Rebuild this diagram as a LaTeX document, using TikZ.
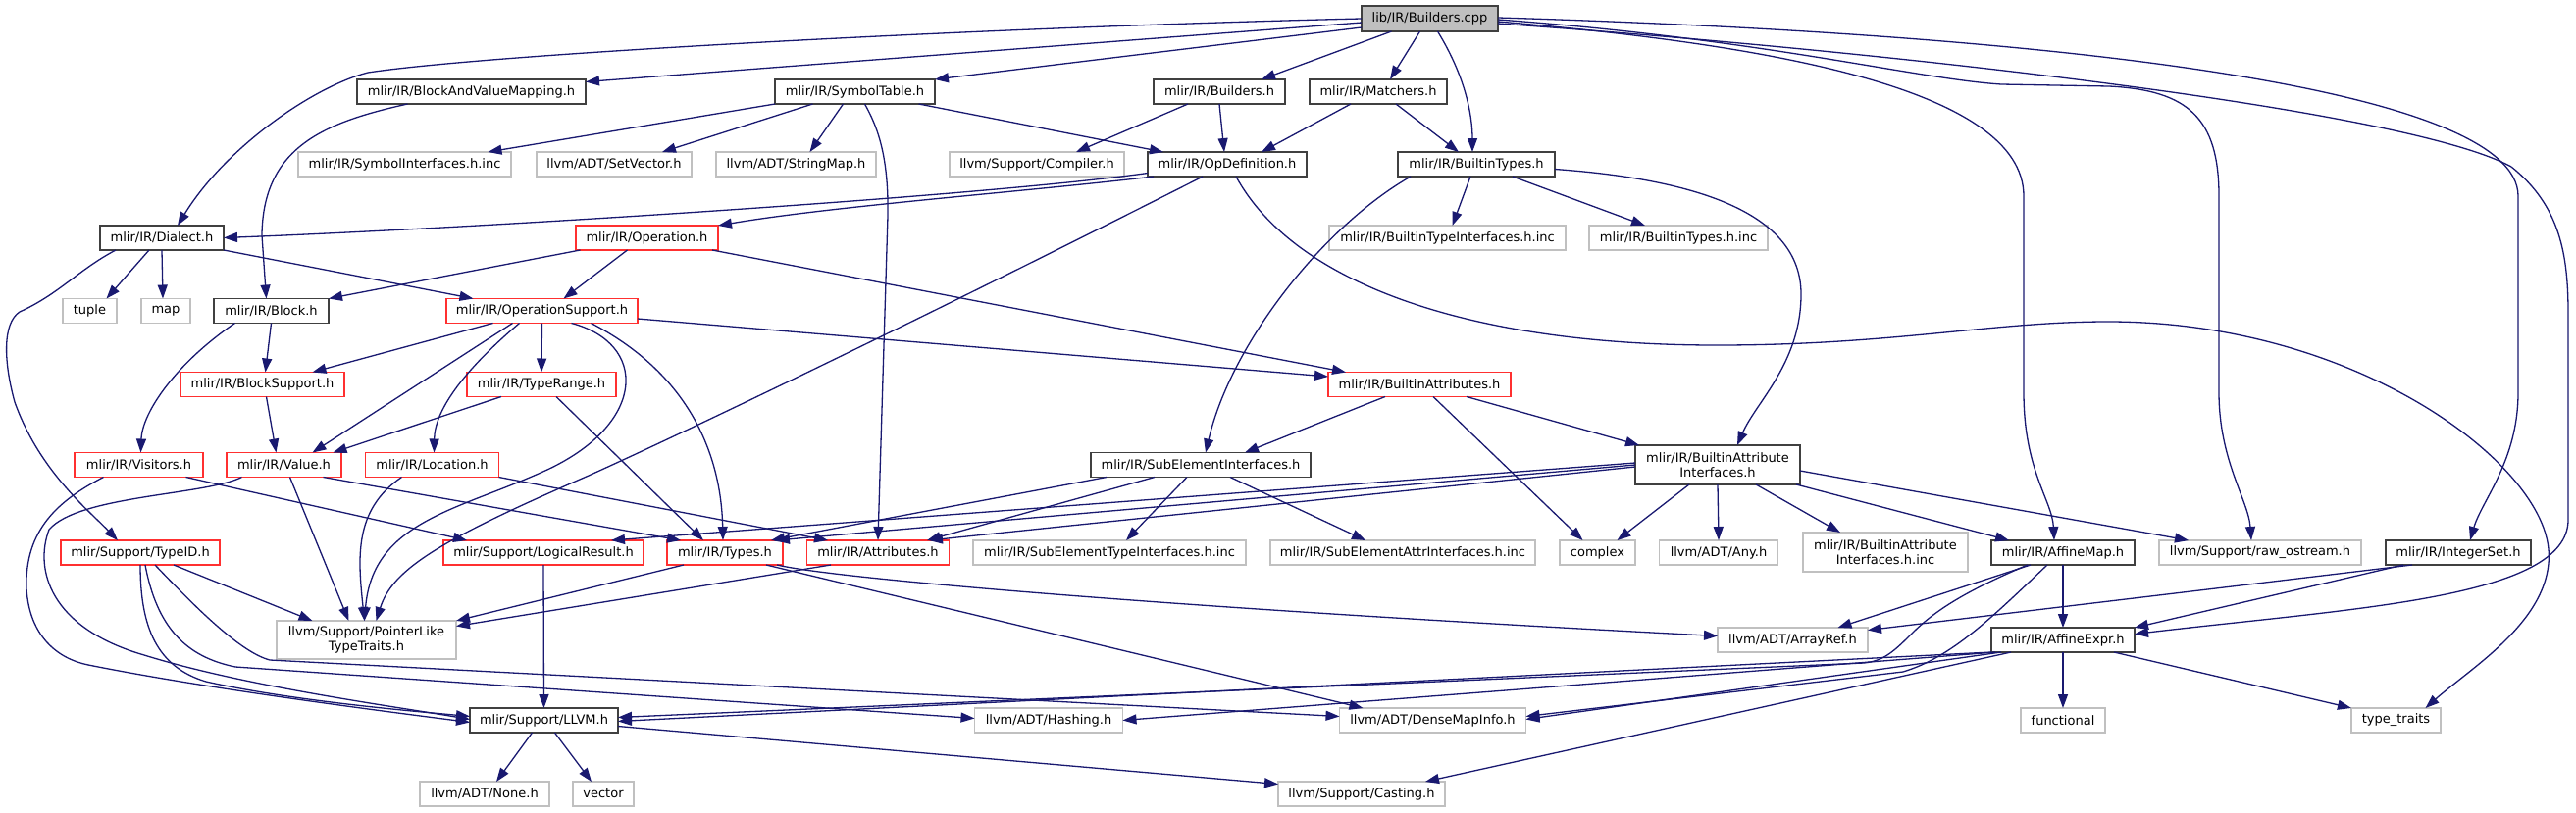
\documentclass[tikz,border=0pt]{standalone}
\usepackage{fontspec}
\setmainfont{DejaVu Sans}
\usetikzlibrary{arrows.meta}
\definecolor{navy}{HTML}{191970}
\definecolor{redb}{HTML}{FF3030}
\definecolor{grayb}{HTML}{C0C0C0}
\definecolor{darkb}{HTML}{404040}
\definecolor{rootf}{HTML}{BFBFBF}
\begin{document}
\begin{tikzpicture}[x=1pt,y=-1pt,
  box/.style={rectangle, inner sep=0pt, outer sep=0pt, minimum height=25pt, font=\fontsize{13}{14.5}\selectfont, fill=white, align=center},
  blk/.style={box, draw=darkb, line width=1.8pt},
  rd/.style={box, draw=redb, line width=1.6pt},
  gr/.style={box, draw=grayb, line width=1.5pt},
  root/.style={box, draw=darkb, fill=rootf, line width=1.6pt},
  e/.style={draw=navy, line width=1.3pt, -{Triangle[length=14pt,width=10pt]}},
]
\useasboundingbox (0,0) rectangle (2626,828);

\node[root, minimum width=139pt, minimum height=26pt] (bc) at (1457.5,19) {lib/IR/Builders.cpp};
\node[blk, minimum width=233pt] (bavm) at (480.5,93.5) {mlir/IR/BlockAndValueMapping.h};
\node[blk, minimum width=163pt] (symt) at (871.5,93.5) {mlir/IR/SymbolTable.h};
\node[blk, minimum width=134pt] (bldh) at (1243,93.5) {mlir/IR/Builders.h};
\node[blk, minimum width=140pt] (mat) at (1405,93.5) {mlir/IR/Matchers.h};
\node[gr, minimum width=217pt] (syminc) at (412.5,167.5) {mlir/IR/SymbolInterfaces.h.inc};
\node[gr, minimum width=158pt] (setv) at (626,167.5) {llvm/ADT/SetVector.h};
\node[gr, minimum width=163pt] (strm) at (811.5,167.5) {llvm/ADT/StringMap.h};
\node[gr, minimum width=178pt] (comp) at (1057,167.5) {llvm/Support/Compiler.h};
\node[blk, minimum width=162pt] (opdef) at (1251,167.5) {mlir/IR/OpDefinition.h};
\node[blk, minimum width=160pt] (btypes) at (1505,167.5) {mlir/IR/BuiltinTypes.h};
\node[blk, minimum width=126pt] (dialect) at (165,242.5) {mlir/IR/Dialect.h};
\node[rd, minimum width=145pt] (oper) at (659.5,242.5) {mlir/IR/Operation.h};
\node[gr, minimum width=241pt] (btinc) at (1475.5,242.5) {mlir/IR/BuiltinTypeInterfaces.h.inc};
\node[gr, minimum width=182pt] (bthinc) at (1711,242.5) {mlir/IR/BuiltinTypes.h.inc};
\node[gr, minimum width=55pt] (tuple) at (91.5,317) {tuple};
\node[gr, minimum width=50pt] (map) at (169,317) {map};
\node[blk, minimum width=117pt] (block) at (276.5,317) {mlir/IR/Block.h};
\node[rd, minimum width=195pt] (opsup) at (552.5,317) {mlir/IR/OperationSupport.h};
\node[rd, minimum width=167pt] (blksup) at (267.5,392) {mlir/IR/BlockSupport.h};
\node[rd, minimum width=152pt] (trange) at (552,392) {mlir/IR/TypeRange.h};
\node[rd, minimum width=186pt] (battr) at (1447,392) {mlir/IR/BuiltinAttributes.h};
\node[rd, minimum width=131pt] (visit) at (141.5,474) {mlir/IR/Visitors.h};
\node[rd, minimum width=117pt] (value) at (289.5,474) {mlir/IR/Value.h};
\node[rd, minimum width=136pt] (loc) at (440.5,474) {mlir/IR/Location.h};
\node[blk, minimum width=224pt] (subel) at (1224,474) {mlir/IR/SubElementInterfaces.h};
\node[blk, minimum width=168pt, minimum height=40pt] (bai) at (1751,474) {mlir/IR/BuiltinAttribute\\Interfaces.h};
\node[rd, minimum width=162pt] (typeid) at (143,563.5) {mlir/Support/TypeID.h};
\node[rd, minimum width=204pt] (logres) at (554,563.5) {mlir/Support/LogicalResult.h};
\node[rd, minimum width=118pt] (types) at (739,563.5) {mlir/IR/Types.h};
\node[rd, minimum width=145pt] (attrs) at (895,563.5) {mlir/IR/Attributes.h};
\node[gr, minimum width=278pt] (setinc) at (1131,563.5) {mlir/IR/SubElementTypeInterfaces.h.inc};
\node[gr, minimum width=270pt] (saiinc) at (1430,563.5) {mlir/IR/SubElementAttrInterfaces.h.inc};
\node[gr, minimum width=77pt] (complex) at (1628.5,563.5) {complex};
\node[gr, minimum width=121pt] (any) at (1752,563.5) {llvm/ADT/Any.h};
\node[gr, minimum width=168pt, minimum height=40pt] (baiinc) at (1922,563) {mlir/IR/BuiltinAttribute\\Interfaces.h.inc};
\node[blk, minimum width=146pt] (amap) at (2103,563.5) {mlir/IR/AffineMap.h};
\node[gr, minimum width=206pt] (rawos) at (2304,563.5) {llvm/Support/raw\_ostream.h};
\node[blk, minimum width=148pt] (iset) at (2506,563.5) {mlir/IR/IntegerSet.h};
\node[gr, minimum width=183pt, minimum height=39pt] (plike) at (373.5,652.5) {llvm/Support/PointerLike\\TypeTraits.h};
\node[gr, minimum width=153pt] (arref) at (1827.5,652.5) {llvm/ADT/ArrayRef.h};
\node[blk, minimum width=146pt] (aexpr) at (2103,652.5) {mlir/IR/AffineExpr.h};
\node[blk, minimum width=151pt] (llvm) at (554.5,734.5) {mlir/Support/LLVM.h};
\node[gr, minimum width=151pt] (hash) at (1069,734.5) {llvm/ADT/Hashing.h};
\node[gr, minimum width=190pt] (dmi) at (1460.5,734.5) {llvm/ADT/DenseMapInfo.h};
\node[gr, minimum width=86pt] (func) at (2103,734.5) {functional};
\node[gr, minimum width=91pt] (ttraits) at (2442.5,734.5) {type\_traits};
\node[gr, minimum width=132pt] (none) at (494,809.5) {llvm/ADT/None.h};
\node[gr, minimum width=62pt] (vector) at (615,809.5) {vector};
\node[gr, minimum width=170pt] (cast) at (1388,809.5) {llvm/Support/Casting.h};

% lib/IR/Builders.cpp
\draw[e] (bc.west) .. controls (1000,28) and (500,55) .. (375,74) .. controls (320,88) and (230,150) .. ([xshift=16pt]dialect.north);
\draw[e] ([yshift=-4pt]bc.west) -- ([yshift=10pt]bavm.east);
\draw[e] ([yshift=-9pt]bc.west) -- (symt.north east);
\draw[e] ([xshift=-39pt]bc.south) -- ([xshift=43pt]bldh.north);
\draw[e] ([xshift=-10pt]bc.south) -- ([xshift=12pt]mat.north);
\draw[e] ([xshift=8pt]bc.south) .. controls (1495,80) and (1501,120) .. ([xshift=-4pt]btypes.north);
\draw[e] ([yshift=-3pt]bc.east) .. controls (1800,45) and (2063,90) .. (2063,200) -- (2063,400) .. controls (2063,480) and (2092,510) .. ([xshift=-9pt]amap.north);
\draw[e] ([yshift=-1pt]bc.east) .. controls (1800,40) and (1950,80) .. (2040,86) -- (2150,88) .. controls (2230,92) and (2262,120) .. (2262,200) -- (2262,400) .. controls (2262,470) and (2292,510) .. ([xshift=-9pt]rawos.north);
\draw[e] ([yshift=1pt]bc.east) .. controls (2100,35) and (2567,90) .. (2567,200) -- (2567,400) .. controls (2567,470) and (2530,510) .. ([xshift=12pt]iset.north);
\draw[e] ([yshift=-5pt]bc.east) .. controls (1900,50) and (2450,110) .. (2560,170) .. controls (2610,210) and (2618,260) .. (2618,320) -- (2618,530) .. controls (2618,610) and (2400,620) .. ([yshift=6pt]aexpr.east);

% BlockAndValueMapping
\draw[e] ([xshift=-65pt]bavm.south) .. controls (330,125) and (268,150) .. (267,240) -- ([xshift=-5pt]block.north);

% SymbolTable
\draw[e] (symt.south west) -- ([xshift=85pt]syminc.north);
\draw[e] ([xshift=-43pt]symt.south) -- ([xshift=49pt]setv.north);
\draw[e] ([xshift=-12pt]symt.south) -- ([xshift=14pt]strm.north);
\draw[e] ([xshift=65pt]symt.south) -- ([xshift=-65pt]opdef.north);
\draw[e] ([xshift=10pt]symt.south) .. controls (895,130) and (906,160) .. (905,220) -- (attrs.north);

% Builders.h, Matchers.h
\draw[e] ([xshift=-32pt]bldh.south) -- ([xshift=40pt]comp.north);
\draw[e] (bldh.south) -- ([xshift=-3pt]opdef.north);
\draw[e] ([xshift=-28pt]mat.south) -- ([xshift=35pt]opdef.north);
\draw[e] ([xshift=18pt]mat.south) -- ([xshift=-18pt]btypes.north);

% OpDefinition
\draw[e] ([yshift=-9pt]opdef.west) .. controls (1000,200) and (500,232) .. (dialect.east);
\draw[e] ([xshift=6pt]opdef.south west) .. controls (1050,195) and (850,210) .. (oper.north east);
\draw[e] ([xshift=-25pt]opdef.south) .. controls (950,320) and (700,440) .. (600,485) .. controls (450,550) and (400,580) .. ([xshift=10pt]plike.north);
\draw[e] ([xshift=9pt]opdef.south) .. controls (1320,290) and (1500,352) .. (1750,352) .. controls (1930,352) and (2030,328) .. (2149,328) .. controls (2400,328) and (2590,470) .. (2598,560) .. controls (2604,630) and (2520,680) .. ([xshift=30pt]ttraits.north);

% BuiltinTypes
\draw[e] ([xshift=-6pt]btypes.south) -- ([xshift=5pt]btinc.north);
\draw[e] ([xshift=37pt]btypes.south) -- ([xshift=-34pt]bthinc.north);
\draw[e] ([xshift=-67pt]btypes.south) .. controls (1350,230) and (1255,350) .. ([xshift=5pt]subel.north);
\draw[e] ([yshift=-5pt]btypes.east) .. controls (1760,185) and (1836,230) .. (1836,300) .. controls (1836,370) and (1790,410) .. ([xshift=20pt]bai.north);

% Dialect
\draw[e] ([xshift=-13pt]dialect.south) -- ([xshift=17pt]tuple.north);
\draw[e] (dialect.south) -- ([xshift=-3pt]map.north);
\draw[e] (dialect.south east) -- ([xshift=-70pt]opsup.north);
\draw[e] ([xshift=-47pt]dialect.south) .. controls (80,275) and (60,300) .. (20,318) .. controls (2,330) and (4,370) .. (15,410) .. controls (40,480) and (90,520) .. ([xshift=-23pt]typeid.north);

% Operation
\draw[e] ([xshift=-68pt]oper.south) -- (block.north east);
\draw[e] ([xshift=-20pt]oper.south) -- ([xshift=22pt]opsup.north);
\draw[e] ([xshift=-6pt]oper.south east) -- ([xshift=-75pt]battr.north);

% Block
\draw[e] (block.south) -- ([xshift=3pt]blksup.north);
\draw[e] ([xshift=-37pt]block.south) .. controls (180,370) and (145,420) .. ([xshift=2pt]visit.north);

% OperationSupport
\draw[e] ([xshift=-50pt]opsup.south) -- ([xshift=51pt]blksup.north);
\draw[e] (opsup.south) -- (trange.north);
\draw[e] ([xshift=-30pt]opsup.south) -- ([xshift=29pt]value.north);
\draw[e] ([xshift=-23pt]opsup.south) .. controls (470,380) and (443,420) .. ([xshift=2pt]loc.north);
\draw[e] ([xshift=30pt]opsup.south) .. controls (660,350) and (660,430) .. (560,478) .. controls (470,520) and (380,530) .. ([xshift=-2pt]plike.north);
\draw[e] ([xshift=50pt]opsup.south) .. controls (700,380) and (735,460) .. ([xshift=-2pt]types.north);
\draw[e] ([yshift=-8pt]opsup.east) -- ([yshift=8pt]battr.west);

% BlockSupport, TypeRange
\draw[e] ([xshift=4pt]blksup.south) -- ([xshift=-8pt]value.north);
\draw[e] ([xshift=-41pt]trange.south) -- ([xshift=50pt]value.north);
\draw[e] ([xshift=15pt]trange.south) -- ([xshift=-22pt]types.north);

% BuiltinAttributes
\draw[e] ([xshift=-35pt]battr.south) -- ([xshift=45pt]subel.north);
\draw[e] ([xshift=14pt]battr.south) -- ([xshift=-15pt]complex.north);
\draw[e] ([xshift=48pt]battr.south) -- ([xshift=4pt]bai.north west);

% Visitors
\draw[e] ([xshift=-36pt]visit.south) .. controls (60,510) and (25,540) .. (27,600) .. controls (30,650) and (60,672) .. (90,678) .. controls (200,700) and (350,720) .. ([yshift=-2pt]llvm.west);
\draw[e] ([xshift=48pt]visit.south) -- ([xshift=-78pt]logres.north);

% Value
\draw[e] ([xshift=-43pt]value.south) .. controls (210,505) and (80,505) .. (50,540) .. controls (35,580) and (50,640) .. (147,668) .. controls (250,700) and (400,720) .. ([yshift=1pt]llvm.west);
\draw[e] ([xshift=6pt]value.south) -- ([xshift=-18pt]plike.north);
\draw[e] ([xshift=40pt]value.south) -- ([xshift=-45pt]types.north);

% Location
\draw[e] ([xshift=-31pt]loc.south) .. controls (360,520) and (365,570) .. ([xshift=-2pt]plike.north);
\draw[e] (loc.south east) -- ([xshift=-51pt]attrs.north);

% TypeID
\draw[e] ([xshift=34pt]typeid.south) -- ([xshift=-55pt]plike.north);
\draw[e] (typeid.south) .. controls (143,640) and (160,680) .. (210,695) .. controls (300,715) and (420,725) .. ([yshift=4pt]llvm.west);
\draw[e] ([xshift=15pt]typeid.south) .. controls (200,620) and (245,665) .. (275,673) -- ([yshift=4pt]dmi.west);
\draw[e] ([xshift=5pt]typeid.south) .. controls (160,640) and (190,670) .. (240,680) -- ([yshift=2pt]hash.west);

% LogicalResult
\draw[e] (logres.south) -- (llvm.north);

% Types, Attributes
\draw[e] ([xshift=-42pt]types.south) -- (plike.north east);
\draw[e] ([xshift=42pt]types.south) -- ([xshift=-71pt]dmi.north);
\draw[e] ([xshift=53pt]types.south) .. controls (850,590) and (1200,620) .. ([yshift=4pt]arref.west);
\draw[e] ([xshift=-48pt]attrs.south) -- ([yshift=14pt]plike.east);

% LLVM
\draw[e] ([xshift=-12pt]llvm.south) -- ([xshift=12pt]none.north);
\draw[e] ([xshift=11pt]llvm.south) -- ([xshift=-12pt]vector.north);
\draw[e] ([yshift=-6pt]llvm.east) -- ([yshift=10pt]cast.west);

% SubElementInterfaces
\draw[e] ([xshift=-96pt]subel.south) -- ([xshift=47pt]types.north);
\draw[e] ([xshift=-47pt]subel.south) -- ([xshift=50pt]attrs.north);
\draw[e] ([xshift=-14pt]subel.south) -- ([xshift=17pt]setinc.north);
\draw[e] ([xshift=30pt]subel.south) -- ([xshift=-38pt]saiinc.north);

% BuiltinAttributeInterfaces
\draw[e] ([yshift=2pt]bai.west) -- ([xshift=69pt]logres.north);
\draw[e] (bai.west) -- ([xshift=52pt]types.north);
\draw[e] ([yshift=-2pt]bai.west) -- ([xshift=52pt]attrs.north);
\draw[e] ([xshift=-29pt]bai.south) -- ([xshift=20pt]complex.north);
\draw[e] (bai.south) -- (any.north);
\draw[e] ([xshift=39pt]bai.south) -- ([xshift=-46pt]baiinc.north);
\draw[e] ([xshift=80pt]bai.south) -- ([xshift=-55pt]amap.north);
\draw[e] ([yshift=-6pt]bai.east) -- ([xshift=-73pt]rawos.north);

% AffineMap
\draw[e] ([xshift=-33pt]amap.south) -- ([xshift=46pt]arref.north);
\draw[e] (amap.south) -- (aexpr.north);
\draw[e] ([xshift=-36pt]amap.south) .. controls (2010,600) and (1975,620) .. (1950,645) .. controls (1930,665) and (1920,674) .. (1900,676) -- ([yshift=3pt]llvm.east);
\draw[e] ([xshift=-16pt]amap.south) .. controls (2030,630) and (1990,670) .. (1940,685) -- ([yshift=4pt]dmi.east);

% AffineExpr
\draw[e] (aexpr.south west) -- ([yshift=-1pt]llvm.east);
\draw[e] ([xshift=4pt]aexpr.south west) -- (hash.east);
\draw[e] ([xshift=10pt]aexpr.south west) -- ([yshift=1pt]dmi.east);
\draw[e] ([xshift=20pt]aexpr.south west) -- ([xshift=65pt]cast.north);
\draw[e] (aexpr.south) -- (func.north);
\draw[e] ([xshift=52pt]aexpr.south) -- (ttraits.north west);

% IntegerSet
\draw[e] ([xshift=-47pt]iset.south) -- ([yshift=10pt]arref.east);
\draw[e] ([xshift=-56pt]iset.south) -- (aexpr.north east);
\end{tikzpicture}
\end{document}
